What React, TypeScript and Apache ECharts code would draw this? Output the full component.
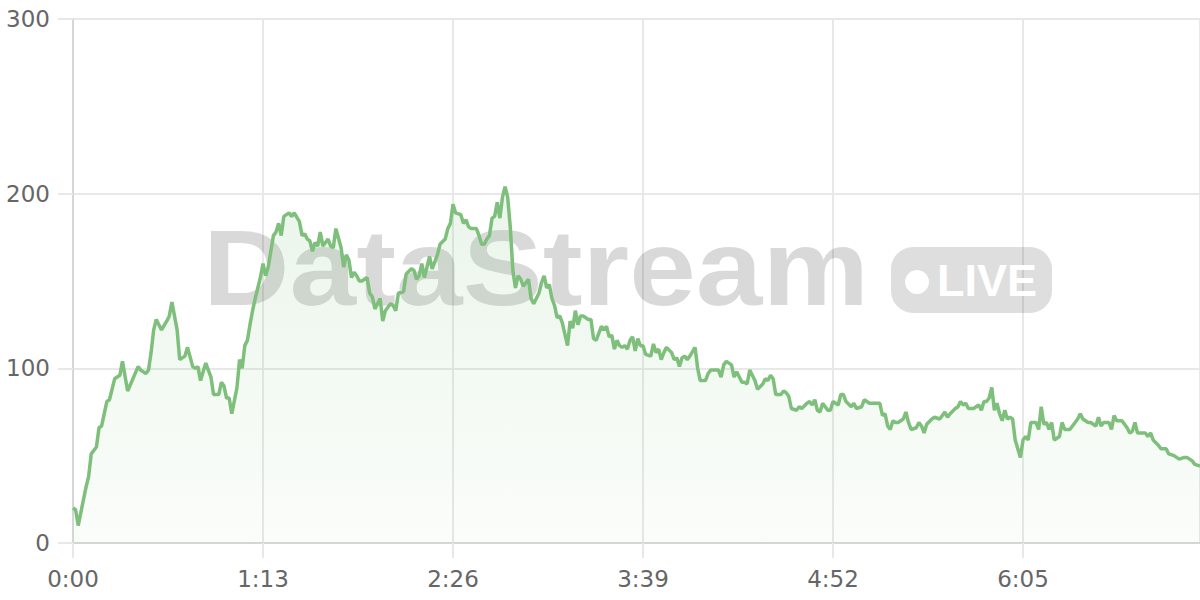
import React, { useEffect, useRef } from "react";
import * as echarts from "echarts";

const times = [
  0, 1, 2, 5, 6, 7, 9, 10, 11, 13, 14, 16, 18, 19, 21, 23, 25, 26, 28, 29,
  30, 31, 32, 34, 36, 37, 38, 40, 41, 43, 44, 46, 47, 48, 49, 51, 53, 54, 56, 57,
  58, 59, 60, 61, 63, 64, 65, 66, 67, 68, 69, 70, 71, 72, 73, 74, 75, 77, 78, 79,
  80, 81, 83, 84, 85, 87, 88, 89, 90, 91, 92, 93, 94, 95, 96, 98, 99, 100, 101, 103,
  104, 105, 106, 107, 108, 109, 110, 111, 113, 114, 115, 116, 117, 118, 119, 120, 122, 123, 124, 125,
  127, 128, 130, 131, 132, 133, 134, 135, 137, 138, 140, 141, 143, 144, 145, 146, 147, 149, 150, 151,
  152, 153, 155, 156, 157, 158, 159, 160, 161, 162, 163, 164, 165, 166, 167, 168, 169, 170, 171, 172,
  173, 175, 176, 177, 179, 180, 181, 182, 183, 184, 185, 186, 187, 188, 190, 191, 192, 193, 194, 195,
  196, 198, 199, 200, 201, 203, 204, 205, 206, 207, 208, 209, 210, 211, 212, 213, 214, 215, 216, 217,
  218, 219, 220, 222, 223, 224, 225, 226, 227, 228, 230, 231, 232, 233, 234, 235, 236, 237, 239, 240,
  241, 243, 244, 245, 247, 248, 249, 250, 251, 253, 254, 255, 257, 258, 259, 260, 262, 263, 265, 266,
  267, 268, 269, 270, 272, 273, 274, 275, 276, 278, 279, 280, 282, 283, 284, 285, 286, 287, 288, 290,
  291, 292, 294, 295, 296, 297, 299, 300, 301, 303, 304, 306, 307, 309, 310, 311, 312, 313, 314, 315,
  316, 317, 319, 320, 321, 322, 324, 325, 326, 327, 328, 330, 331, 333, 334, 335, 336, 337, 339, 340,
  341, 342, 343, 344, 346, 348, 349, 350, 351, 352, 353, 354, 355, 356, 357, 358, 359, 360, 361, 362,
  364, 365, 366, 367, 368, 370, 371, 372, 373, 374, 375, 376, 377, 379, 380, 381, 383, 384, 386, 387,
  388, 390, 391, 393, 394, 395, 396, 398, 399, 400, 401, 403, 405, 406, 407, 408, 409, 411, 412, 413,
  414, 415, 417, 418, 420, 421, 423, 424, 425, 427, 428, 430, 431, 433,
];

const values = [
  20, 19, 10, 32, 38, 51, 55, 66, 67, 81, 82, 94, 96, 104, 87, 94, 101, 99, 97, 99,
  109, 122, 128, 122, 127, 130, 138, 122, 105, 107, 112, 101, 100, 101, 93, 103, 95, 85, 85, 92,
  90, 83, 83, 74, 89, 105, 100, 113, 116, 125, 133, 140, 146, 152, 160, 153, 158, 176, 178, 183,
  176, 187, 189, 187, 189, 184, 176, 177, 174, 173, 167, 172, 170, 178, 170, 174, 170, 169, 180, 169,
  158, 165, 162, 152, 155, 153, 150, 150, 152, 143, 141, 134, 137, 140, 127, 133, 137, 136, 133, 143,
  144, 154, 157, 156, 151, 153, 160, 152, 164, 157, 165, 171, 174, 180, 183, 194, 189, 188, 183, 185,
  181, 180, 180, 176, 171, 171, 174, 176, 186, 187, 195, 186, 198, 204, 198, 181, 156, 146, 153, 151,
  147, 151, 140, 137, 143, 149, 153, 146, 148, 140, 136, 129, 130, 126, 113, 127, 123, 133, 125, 130,
  130, 128, 128, 117, 116, 124, 122, 124, 118, 119, 111, 116, 113, 112, 113, 111, 116, 118, 110, 117,
  113, 113, 108, 107, 114, 109, 111, 105, 109, 112, 109, 105, 106, 101, 106, 107, 105, 107, 112, 100,
  93, 93, 97, 99, 99, 99, 95, 102, 104, 102, 95, 98, 92, 92, 91, 99, 93, 88, 91, 94,
  93, 96, 94, 85, 85, 87, 86, 84, 77, 76, 78, 77, 80, 81, 79, 82, 76, 75, 80, 76,
  76, 81, 79, 85, 85, 81, 78, 80, 77, 78, 82, 80, 80, 80, 80, 73, 74, 67, 65, 70,
  69, 69, 71, 75, 69, 65, 66, 69, 67, 63, 68, 71, 72, 71, 73, 75, 72, 74, 77, 78,
  81, 79, 80, 77, 77, 79, 76, 81, 81, 83, 89, 76, 80, 74, 70, 76, 71, 72, 71, 59,
  49, 59, 61, 59, 69, 69, 65, 78, 68, 69, 65, 69, 59, 61, 69, 65, 65, 67, 71, 74,
  71, 69, 69, 67, 72, 67, 69, 69, 65, 73, 70, 70, 66, 63, 64, 69, 63, 63, 63, 61,
  63, 59, 56, 54, 54, 51, 50, 49, 48, 49, 49, 47, 45, 44,
];

const yTicks = [0, 100, 200, 300];
const tickStep = 73;
const timeMax = 433;

const lineColor = "#7dbf7b";
const labelFont = '"DejaVu Sans", sans-serif';

function fmtTime(v: number): string {
  const m = Math.floor(v / 60);
  const s = Math.round(v % 60);
  return `${m}:${String(s).padStart(2, "0")}`;
}

export default function App() {
  const ref = useRef<HTMLDivElement>(null);

  useEffect(() => {
    if (!ref.current) return;
    const chart = echarts.init(ref.current, undefined, { renderer: "svg" });
    const data = times.map((t, i) => [t, values[i]]);
    const gridColor = "#e8e8e8";

    chart.setOption({
      animation: false,
      grid: { left: 73, right: 0, top: 19, bottom: 57, containLabel: false },
      xAxis: {
        type: "value",
        min: 0,
        max: timeMax,
        interval: tickStep,
        axisLine: { show: true, lineStyle: { color: "#d6d6d6", width: 2 } },
        axisTick: { show: true, length: 15, lineStyle: { color: gridColor, width: 2 } },
        splitLine: { show: true, lineStyle: { color: gridColor, width: 2 } },
        axisLabel: {
          color: "#666",
          fontSize: 23,
          fontFamily: labelFont,
          margin: 24,
          formatter: (v: number) => fmtTime(v),
          showMaxLabel: false,
        },
      },
      yAxis: {
        type: "value",
        min: yTicks[0],
        max: yTicks[yTicks.length - 1],
        interval: 100,
        axisLine: { show: true, lineStyle: { color: "#d6d6d6", width: 2 } },
        axisTick: { show: true, length: 15, lineStyle: { color: gridColor, width: 2 } },
        splitLine: { show: true, lineStyle: { color: gridColor, width: 2 } },
        axisLabel: {
          color: "#666",
          fontSize: 23,
          fontFamily: labelFont,
          margin: 23,
        },
      },
      graphic: [
        {
          type: "text",
          x: 203,
          y: 268,
          scaleX: 1.12,
          z: 1,
          silent: true,
          style: {
            text: "DataStream",
            fill: "rgba(0,0,0,0.15)",
            font: 'bold 107px "Liberation Sans", Arial, sans-serif',
            align: "left",
            verticalAlign: "middle",
          },
        },
        {
          type: "rect",
          z: 1,
          silent: true,
          shape: { x: 891, y: 247, width: 161, height: 66, r: 22 },
          style: { fill: "rgba(0,0,0,0.13)" },
        },
        {
          type: "circle",
          z: 1,
          silent: true,
          shape: { cx: 917, cy: 282, r: 12 },
          style: { fill: "#ffffff" },
        },
        {
          type: "text",
          x: 937,
          y: 280,
          z: 1,
          silent: true,
          style: {
            text: "LIVE",
            fill: "#ffffff",
            font: 'bold 45px "Liberation Sans", Arial, sans-serif',
            align: "left",
            verticalAlign: "middle",
          },
        },
      ],
      series: [
        {
          type: "line",
          data,
          showSymbol: false,
          symbol: "none",
          z: 3,
          lineStyle: { color: lineColor, width: 3.5 },
          areaStyle: {
            color: new echarts.graphic.LinearGradient(0, 0, 0, 1, [
              { offset: 0, color: "rgba(125,191,123,0.22)" },
              { offset: 1, color: "rgba(125,191,123,0.05)" },
            ]),
          },
        },
      ],
    });

    return () => chart.dispose();
  }, []);

  return (
    <div
      ref={ref}
      style={{ position: "absolute", left: 0, top: 0, width: 1200, height: 600 }}
    />
  );
}
